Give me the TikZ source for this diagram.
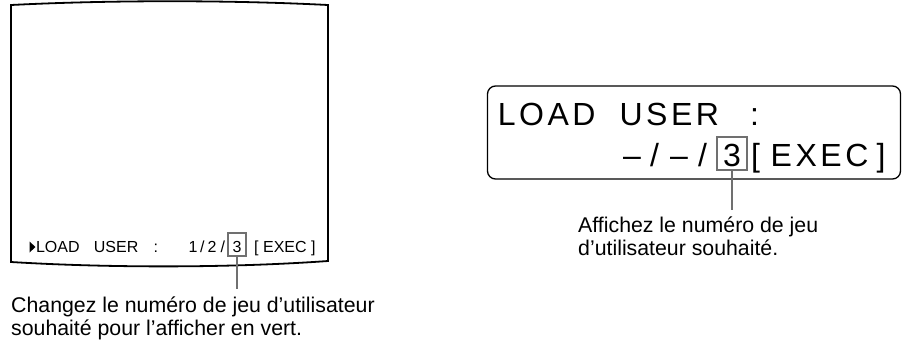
\documentclass[tikz,border=0pt]{standalone}
\usepackage{fontspec}
\setmainfont{Liberation Sans}
\usetikzlibrary{positioning}
\definecolor{boxgray}{RGB}{112,112,112}

\begin{document}
\begin{tikzpicture}[
    x=1pt, y=-1pt,
    every node/.style={inner sep=0pt, anchor=base west},
    osd/.style   ={font=\fontsize{16}{18}\selectfont},
    lcdtxt/.style={font=\fontsize{32}{36}\selectfont\addfontfeature{LetterSpace=11}},
    captxt/.style={align=left, anchor=north west, font=\fontsize{21.3}{23}\selectfont},
    valbox/.style={draw=boxgray, line width=1.4pt, inner sep=0.5pt, anchor=base},
    lcd/.style   ={draw, line width=1.3pt, rounded corners=8pt, anchor=center,
                   minimum width=413pt, minimum height=93pt},
    lead/.style  ={draw=boxgray, line width=1.3pt}
]
  \useasboundingbox (0,0) rectangle (902,341);

  % monitor screen
  \draw[line width=1.8pt] (11,5) .. controls (110,0) and (230,0) .. (328,5)
        -- (328,261) .. controls (230,268) and (110,268) .. (11,262) -- cycle;
  \fill (29.5,241.5) -- (35.5,247) -- (29.5,252.5) -- cycle;
  \node[osd] (osdload)  at (35.8,252)  {LOAD};
  \node[osd] (osduser)  at (93.7,252)  {USER};
  \node[osd] (osdcolon) at (153.5,252) {:};
  \node[osd] (osdone)   at (188.5,252) {1};
  \node[osd] (osdslA)   at (200,252)   {/};
  \node[osd] (osdtwo)   at (207.5,252) {2};
  \node[osd] (osdslB)   at (220.5,252) {/};
  \node[osd, valbox, minimum width=18pt, text height=18.5pt, text depth=3.5pt]
        (osdval) at (237,252) {3};
  \node[osd] (osdexec)  at (254,252)   {[ EXEC ]};

  % LCD panel
  \node[lcd] (lcd) at (694,132.5) {};
  \node[lcdtxt] (lcdload)  at (497.7,125) {LOAD};
  \node[lcdtxt] (lcduser)  at (619.4,125) {USER};
  \node[lcdtxt] (lcdcolon) at (750,125)   {:};
  \node[lcdtxt] (lcddashA) at (623,166)   {–};
  \node[lcdtxt] (lcdslA)   at (650,166)   {/};
  \node[lcdtxt] (lcddashB) at (670,166)   {–};
  \node[lcdtxt] (lcdslB)   at (698,166)   {/};
  \node[lcdtxt, valbox, minimum width=30pt, text height=28.5pt, text depth=3.5pt]
        (lcdval) at (732,166) {3};
  \node[lcdtxt] (lcdopen)  at (751,166)   {[};
  \node[lcdtxt] (lcdexec)  at (770.5,166) {EXEC};
  \node[lcdtxt] (lcdclose) at (876.5,166) {]};

  % captions
  \node[captxt] (capL) at (11,296.2)
        {Changez le numéro de jeu d’utilisateur\\souhaité pour l’afficher en vert.};
  \node[captxt] (capR) at (578,216.2)
        {Affichez le numéro de jeu\\d’utilisateur souhaité.};

  \coordinate (capLtop) at (237,289);
  \coordinate (capRtop) at (732,210);
  \draw[lead] (osdval.south) -- (capLtop);
  \draw[lead] (lcdval.south) -- (capRtop);
\end{tikzpicture}
\end{document}
